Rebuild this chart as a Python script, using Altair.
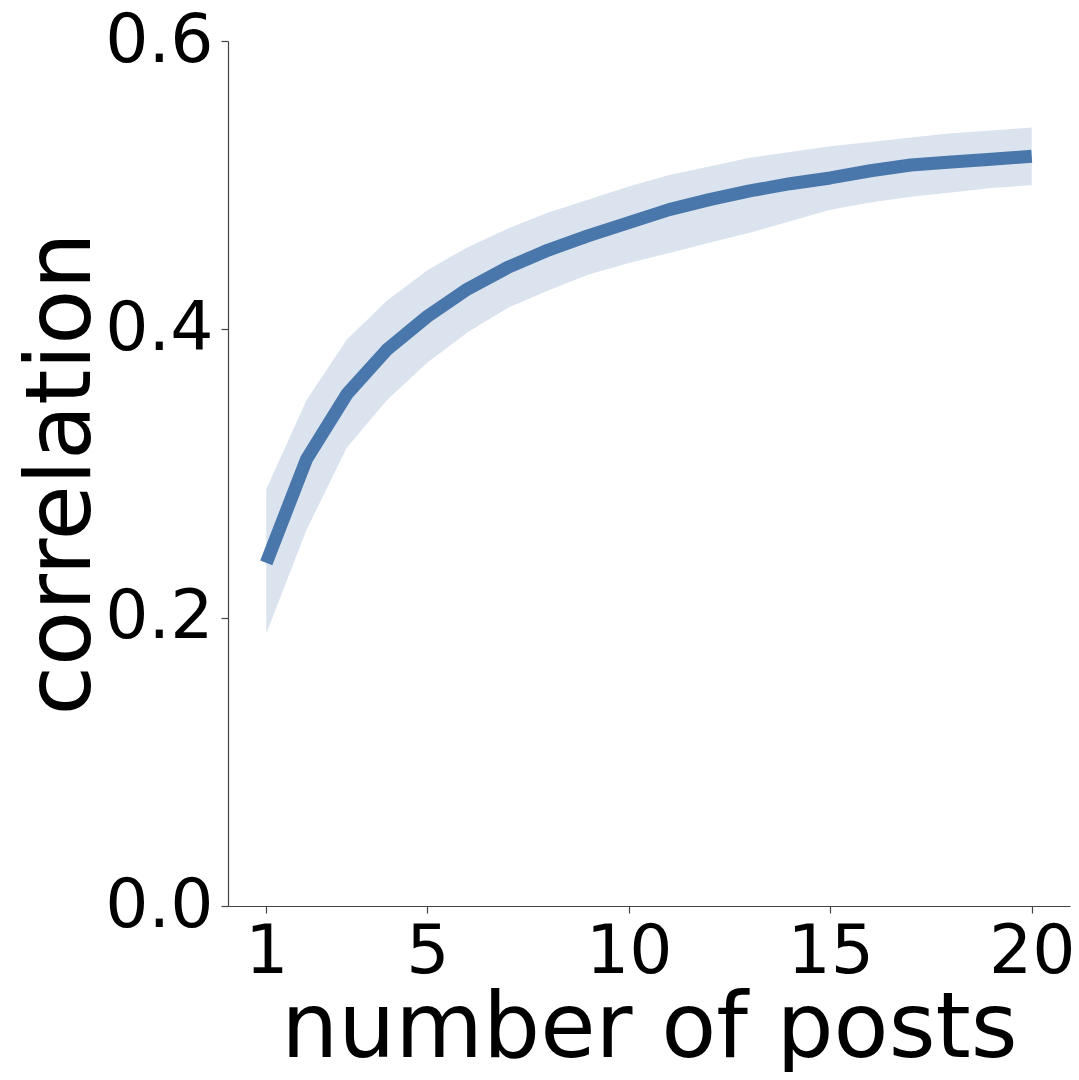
import altair as alt
import pandas as pd

posts = list(range(1, 21))
corr = [0.238, 0.310, 0.355, 0.386, 0.409, 0.428, 0.443, 0.455, 0.465, 0.474,
        0.483, 0.490, 0.496, 0.501, 0.505, 0.510, 0.514, 0.516, 0.518, 0.520]
upper = [0.289, 0.351, 0.393, 0.420, 0.441, 0.457, 0.470, 0.481, 0.490, 0.499,
         0.507, 0.513, 0.519, 0.523, 0.527, 0.530, 0.533, 0.536, 0.538, 0.540]
lower = [0.189, 0.261, 0.318, 0.351, 0.377, 0.398, 0.415, 0.427, 0.438, 0.446,
         0.453, 0.460, 0.467, 0.475, 0.483, 0.488, 0.492, 0.495, 0.498, 0.500]
x_ticks = [1, 5, 10, 15, 20]
y_ticks = [0.0, 0.2, 0.4, 0.6]

df = pd.DataFrame({"posts": posts, "corr": corr, "upper": upper, "lower": lower})

FONT = "DejaVu Sans"

x_enc = alt.X(
    "posts:Q",
    scale=alt.Scale(domain=[0.05, 20.95], nice=False, zero=False),
    axis=alt.Axis(
        values=x_ticks, format="d", title="number of posts",
        titleFontSize=90, titleFont=FONT, titleFontWeight="normal", titleColor="black",
        titleBaseline="alphabetic", titleY=150,
        labelFontSize=68, labelFont=FONT, labelColor="black", labelPadding=5,
        tickSize=7, tickColor="#444444", domainColor="#444444", domainWidth=1.2,
        tickWidth=1.2, grid=False, labelFlush=False,
    ),
)

y_axis = alt.Axis(
    values=y_ticks, format=".1f", title="correlation",
    titleFontSize=90, titleFont=FONT, titleFontWeight="normal", titleColor="black",
    titleBaseline="alphabetic", titleX=-139,
    labelFontSize=68, labelFont=FONT, labelColor="black", labelPadding=8,
    tickSize=7, tickColor="#444444", domainColor="#444444", domainWidth=1.2,
    tickWidth=1.2, grid=False, labelFlush=False,
)

band = alt.Chart(df).mark_area(color="#dbe3ee", opacity=1).encode(
    x=x_enc,
    y=alt.Y("lower:Q", scale=alt.Scale(domain=[0, 0.6], nice=False), axis=y_axis),
    y2="upper:Q",
)

line = alt.Chart(df).mark_line(color="#4a77ab", strokeWidth=13, strokeCap="butt",
                               strokeJoin="round").encode(
    x=x_enc,
    y=alt.Y("corr:Q", scale=alt.Scale(domain=[0, 0.6], nice=False), axis=y_axis),
)

chart = (band + line).properties(
    width=842, height=865,
    autosize=alt.AutoSizeParams(type="none"),
    padding={"left": 220, "top": 33, "right": 1, "bottom": 166},
).configure(background="white").configure_view(stroke=None)

chart.save("out.html", embed_options={"renderer": "svg", "actions": False})
